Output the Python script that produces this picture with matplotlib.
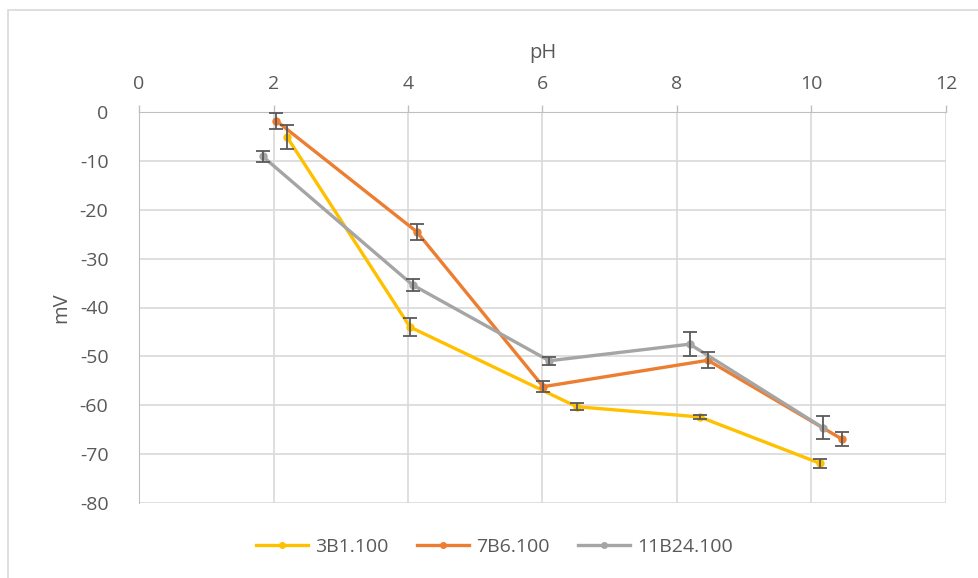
import matplotlib.pyplot as plt
from matplotlib.patches import Rectangle

plt.rcParams['font.family'] = ['Open Sans', 'DejaVu Sans']
plt.rcParams['axes.unicode_minus'] = False

# 3B1.100
ph_3b1 = [2.20, 4.03, 6.51, 8.34, 10.13]
mv_3b1 = [-5.1, -44.0, -60.3, -62.4, -71.9]
err_3b1 = [2.5, 1.9, 0.7, 0.5, 1.0]

# 7B6.100
ph_7b6 = [2.04, 4.13, 6.01, 8.46, 10.45]
mv_7b6 = [-1.8, -24.5, -56.2, -50.8, -66.9]
err_7b6 = [1.6, 1.6, 1.1, 1.6, 1.5]

# 11B24.100
ph_11b24 = [1.84, 4.07, 6.10, 8.19, 10.17]
mv_11b24 = [-9.1, -35.4, -50.9, -47.5, -64.6]
err_11b24 = [1.1, 1.3, 0.8, 2.4, 2.3]

series = [
    ("3B1.100", ph_3b1, mv_3b1, err_3b1, "#FFC000"),
    ("7B6.100", ph_7b6, mv_7b6, err_7b6, "#ED7D31"),
    ("11B24.100", ph_11b24, mv_11b24, err_11b24, "#A5A5A5"),
]

text_color = "#595959"
grid_color = "#D9D9D9"


def main():
    W, H = 979, 578
    fig = plt.figure(figsize=(W / 100, H / 100), dpi=100)
    ax = fig.add_axes([139 / W, 1 - 503 / H, (946 - 139) / W, (503 - 112) / H])

    # chart frame (right and bottom edges fall outside the image)
    fig.patches.append(Rectangle((8 / W, -0.1), 1.2, 1.1 - 10 / H, transform=fig.transFigure,
                                 fill=False, edgecolor=grid_color, linewidth=1.2))

    handles = []
    for name, x, y, e, c in series:
        ax.errorbar(x, y, yerr=e, fmt='none', ecolor="#595959", elinewidth=1.3,
                    capsize=5, capthick=1.3, zorder=4)
        h, = ax.plot(x, y, '-o', color=c, linewidth=2.4, markersize=5, label=name, zorder=3)
        handles.append(h)

    ax.set_xlim(0, 12)
    ax.set_ylim(-80, 0)
    ax.set_xticks(range(0, 13, 2))
    ax.set_yticks(range(-80, 1, 10))

    ax.xaxis.set_ticks_position('top')
    ax.xaxis.set_label_position('top')
    ax.tick_params(axis='x', direction='out', length=5, width=1, color="#BFBFBF",
                   labelsize=14, labelcolor=text_color, pad=9)
    ax.tick_params(axis='y', length=0, labelsize=14, labelcolor=text_color, pad=22)

    ax.grid(True, color=grid_color, linewidth=1.2)
    ax.set_axisbelow(True)
    for s in ['right', 'bottom']:
        ax.spines[s].set_visible(False)
    ax.spines['top'].set_color("#BFBFBF")
    ax.spines['left'].set_color("#BFBFBF")

    ax.set_xlabel("pH", fontsize=14.5, color=text_color, labelpad=12)
    ax.set_ylabel("mV", fontsize=14.5, color=text_color, labelpad=6)

    fig.legend(handles=handles, loc='center', bbox_to_anchor=(0.505, 1 - 547 / H), ncol=3,
               frameon=False, fontsize=14, labelcolor=text_color, handlelength=2.7,
               handletextpad=0.35, columnspacing=1.45, markerscale=0.8)

    plt.savefig('out.png', dpi=100)


if __name__ == '__main__':
    main()
